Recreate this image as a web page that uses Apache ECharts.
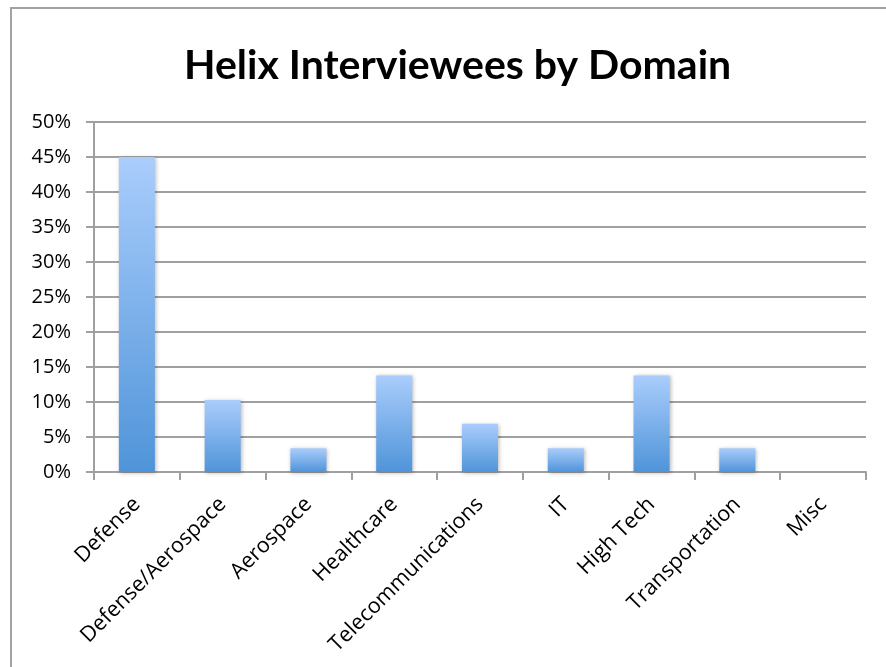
<!DOCTYPE html>
<html>
<head>
<meta charset="utf-8">
<script src="https://cdn.jsdelivr.net/npm/echarts@6/dist/echarts.min.js"></script>
<style>
  html, body { margin: 0; padding: 0; background: #fff; }
  #wrap { position: relative; width: 886px; height: 667px; overflow: hidden; }
  #frame {
    position: absolute; left: 10px; top: 7px; width: 900px; height: 700px;
    border-top: 2px solid #a2a2a2; border-left: 2px solid #a2a2a2;
    box-sizing: border-box; pointer-events: none;
  }
  #chart { position: absolute; left: 0; top: 0; width: 886px; height: 667px; }
</style>
</head>
<body>
<div id="wrap">
  <div id="chart"></div>
  <div id="frame"></div>
</div>
<script>
// Share of interviewees per domain (percent)
const categories = ['Defense', 'Defense/Aerospace', 'Aerospace', 'Healthcare',
  'Telecommunications', 'IT', 'High Tech', 'Transportation', 'Misc'];
const shares = [45.0, 10.3, 3.4, 13.8, 6.9, 3.4, 13.8, 3.4, 0];
const titleText = 'Helix Interviewees by Domain';

const chart = echarts.init(document.getElementById('chart'), null, { renderer: 'canvas' });

const gridColor = '#a0a0a0';
const labelFont = 'Open Sans';

chart.setOption({
  animation: false,
  backgroundColor: '#ffffff',
  title: {
    text: titleText,
    left: 179,
    top: 40,
    textStyle: { fontFamily: 'Lato', fontWeight: 'bold', fontSize: 41, color: '#000' }
  },
  grid: { left: 94, right: 20, top: 122, bottom: 195 },
  xAxis: {
    type: 'category',
    data: categories,
    axisLine: { lineStyle: { color: gridColor, width: 2 } },
    axisTick: { show: true, length: 8, lineStyle: { color: gridColor, width: 2 } },
    axisLabel: {
      rotate: 45, margin: 29, interval: 0,
      fontFamily: labelFont, fontSize: 21.5, color: '#000'
    }
  },
  yAxis: {
    type: 'value',
    min: 0, max: 50, interval: 5,
    axisLine: { show: true, lineStyle: { color: gridColor, width: 2 } },
    axisTick: { show: true, length: 8, lineStyle: { color: gridColor, width: 2 } },
    splitLine: { lineStyle: { color: gridColor, width: 2 } },
    axisLabel: {
      formatter: '{value}%', margin: 23,
      fontFamily: labelFont, fontSize: 20, color: '#000'
    }
  },
  series: [{
    type: 'bar',
    data: shares,
    barWidth: '42%',
    itemStyle: {
      color: new echarts.graphic.LinearGradient(0, 0, 0, 1, [
        { offset: 0, color: '#aacdfc' },
        { offset: 1, color: '#4f94d9' }
      ]),
      shadowColor: 'rgba(0,0,0,0.28)',
      shadowBlur: 4,
      shadowOffsetX: 1,
      shadowOffsetY: 1
    }
  }]
});
</script>
</body>
</html>
